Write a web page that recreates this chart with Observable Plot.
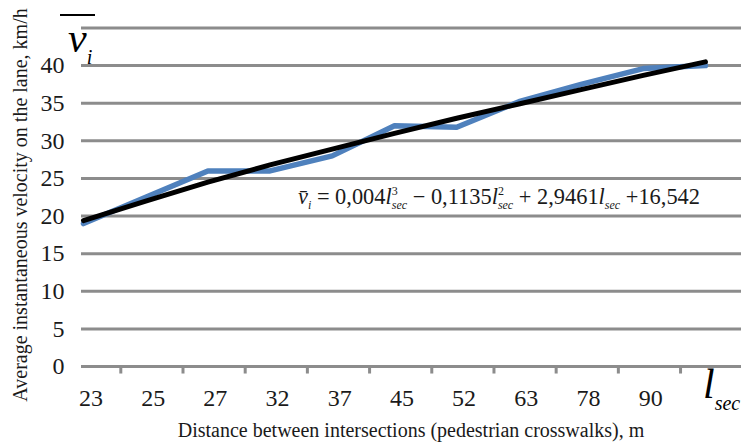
<!DOCTYPE html>
<html>
<head>
<meta charset="utf-8">
<script src="https://cdn.jsdelivr.net/npm/d3@7"></script>
<script src="https://cdn.jsdelivr.net/npm/@observablehq/plot@0.6"></script>
<style>
  html, body { margin: 0; padding: 0; background: #fff; }
  #chart svg { display: block; }
</style>
</head>
<body>
<div id="chart"></div>
<script>
// Category tick labels (distance between intersections, m)
const xLabels = ["23", "25", "27", "32", "37", "45", "52", "63", "78", "90"];
// Measured average instantaneous velocity, km/h (11 points)
const velocity = [19, 22.5, 26, 26, 28, 32, 31.8, 35.2, 37.5, 39.6, 40];
// Polynomial trend line values
const trend = [19.4, 22.0, 24.5, 26.8, 28.9, 31.0, 33.0, 34.9, 36.8, 38.7, 40.5];
// Y axis tick labels and gridlines
const yTicks = [0, 5, 10, 15, 20, 25, 30, 35, 40];
const yGrid = [0, 5, 10, 15, 20, 25, 30, 35, 40, 45];

const yTitle = "Average instantaneous velocity on the lane, km/h";
const xTitle = "Distance between intersections (pedestrian crosswalks), m";

const velData = velocity.map((v, i) => ({i, v}));
const trendData = trend.map((v, i) => ({i, v}));
const tickPos = d3.range(10).map(i => i + 0.6);

const gridColor = "#8c8c8c";
const textColor = "#1a1a1a";

const chart = Plot.plot({
  width: 741,
  height: 443,
  marginLeft: 81,
  marginRight: 0,
  marginTop: 27.5,
  marginBottom: 77,
  x: {domain: [-0.032, 10.58], axis: null},
  y: {domain: [0, 45], axis: null},
  style: {fontFamily: "Liberation Serif", background: "white", color: textColor},
  marks: [
    Plot.ruleY(yGrid, {stroke: gridColor, strokeWidth: 3}),
    Plot.ruleX(tickPos, {x: d => d, y1: 0, y2: -1.0, stroke: gridColor, strokeWidth: 3}),
    Plot.axisY({ticks: yTicks, tickSize: 0, tickPadding: 17, fontSize: 24, label: null, tickFormat: d => String(d)}),
    Plot.text(xLabels, {x: (d, i) => i + 0.12, y: 0, dy: 32, text: d => d, fontSize: 24, fill: textColor}),
    Plot.line(velData, {x: "i", y: "v", stroke: "#4f81bd", strokeWidth: 5.5, strokeLinejoin: "round", strokeLinecap: "round"}),
    Plot.line(trendData, {x: "i", y: "v", stroke: "#000", strokeWidth: 5, strokeLinejoin: "round", strokeLinecap: "round"})
  ]
});

document.getElementById("chart").appendChild(chart);

const svg = d3.select(chart);
const font = "Liberation Serif";

// Axis titles
svg.append("text")
  .attr("transform", "translate(27,205) rotate(-90)")
  .attr("text-anchor", "middle")
  .attr("font-family", font)
  .attr("font-size", 20)
  .attr("fill", textColor)
  .text(yTitle);

svg.append("text")
  .attr("x", 411).attr("y", 437)
  .attr("text-anchor", "middle")
  .attr("font-family", font)
  .attr("font-size", 20)
  .attr("fill", textColor)
  .text(xTitle);

// v-bar_i symbol (top left)
svg.append("line")
  .attr("x1", 60).attr("x2", 95).attr("y1", 15).attr("y2", 15)
  .attr("stroke", "#000").attr("stroke-width", 2);
const vt = svg.append("text")
  .attr("x", 68).attr("y", 52)
  .attr("text-anchor", "start")
  .attr("font-family", font)
  .attr("fill", "#000");
vt.append("tspan").attr("font-size", 42).attr("font-style", "italic").text("v");
vt.append("tspan").attr("font-size", 20).attr("font-style", "italic").attr("dy", 12).text("i");

// l_sec symbol (bottom right)
const lt = svg.append("text")
  .attr("x", 703).attr("y", 398)
  .attr("text-anchor", "start")
  .attr("font-family", font)
  .attr("fill", "#000");
lt.append("tspan").attr("font-size", 42).attr("font-style", "italic").text("l");
lt.append("tspan").attr("font-size", 20).attr("font-style", "italic").attr("dy", 12).text("sec");

// Trend equation
const eq = svg.append("text")
  .attr("x", 298).attr("y", 204)
  .attr("text-anchor", "start")
  .attr("font-family", font)
  .attr("font-size", 22.4)
  .attr("fill", textColor);
function lterm(power) {
  eq.append("tspan").attr("font-style", "italic").text("l");
  if (power) {
    eq.append("tspan").attr("font-size", 12).attr("dy", -9).text(power);
    eq.append("tspan").attr("font-size", 12).attr("font-style", "italic").attr("dx", -6).attr("dy", 14).text("sec");
  } else {
    eq.append("tspan").attr("font-size", 12).attr("font-style", "italic").attr("dy", 5).text("sec");
  }
}
eq.append("tspan").attr("font-style", "italic").text("v\u0304");
eq.append("tspan").attr("font-size", 12).attr("font-style", "italic").attr("dy", 5).text("i");
eq.append("tspan").attr("dy", -5).text(" = 0,004");
lterm("3");
eq.append("tspan").attr("dy", -5).text(" \u2212 0,1135");
lterm("2");
eq.append("tspan").attr("dy", -5).text(" + 2,9461");
lterm(null);
eq.append("tspan").attr("dy", -5).text(" +16,542");
</script>
</body>
</html>
